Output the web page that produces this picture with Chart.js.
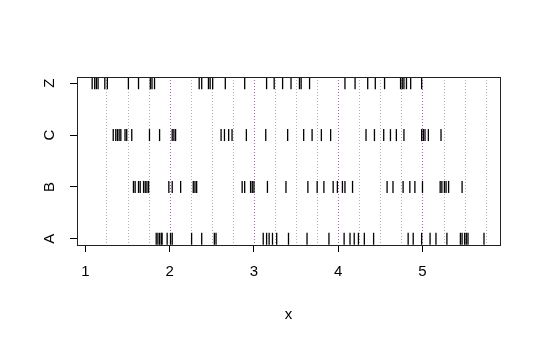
<!DOCTYPE html>
<html lang="en">
<head>
  <meta charset="UTF-8" />
  <title>Strip chart</title>
  <script src="https://cdn.jsdelivr.net/npm/chart.js"></script>
  <style>
    body {
      margin: 0;
      background: #fff;
    }
  </style>
</head>
<body>
  <canvas id="stripChart" width="540" height="341"></canvas>

  <script>
    // groups, bottom to top
    const categories = ['A', 'B', 'C', 'Z'];

    const valuesA = [1.84, 1.86, 1.88, 1.90, 1.91, 1.97, 2.01, 2.03, 2.26, 2.38, 2.53, 2.55,
      3.11, 3.15, 3.18, 3.22, 3.27, 3.41, 3.63, 3.89, 4.07, 4.14, 4.19, 4.24, 4.31, 4.42,
      4.83, 4.89, 4.99, 5.09, 5.16, 5.29, 5.45, 5.47, 5.50, 5.52, 5.54, 5.73];
    const valuesB = [1.57, 1.59, 1.63, 1.65, 1.69, 1.71, 1.73, 1.75, 1.99, 2.03, 2.13, 2.28,
      2.30, 2.32, 2.86, 2.89, 2.96, 2.98, 3.00, 3.16, 3.38, 3.64, 3.75, 3.83, 3.94, 3.99,
      4.05, 4.08, 4.17, 4.58, 4.65, 4.77, 4.85, 4.91, 5.00, 5.21, 5.23, 5.26, 5.28, 5.31, 5.47];
    const valuesC = [1.33, 1.36, 1.38, 1.40, 1.42, 1.47, 1.49, 1.55, 1.76, 1.88, 2.03, 2.05,
      2.07, 2.61, 2.65, 2.70, 2.74, 2.91, 3.14, 3.40, 3.59, 3.69, 3.80, 3.91, 4.33, 4.43,
      4.54, 4.62, 4.69, 4.78, 4.99, 5.01, 5.03, 5.07, 5.22];
    const valuesZ = [1.08, 1.11, 1.13, 1.15, 1.23, 1.26, 1.51, 1.63, 1.77, 1.79, 1.82, 2.35,
      2.38, 2.46, 2.48, 2.51, 2.66, 2.89, 3.15, 3.24, 3.34, 3.44, 3.54, 3.56, 3.66, 4.08,
      4.20, 4.35, 4.44, 4.55, 4.74, 4.76, 4.78, 4.81, 4.86, 4.99];

    const xTicks = [1, 2, 3, 4, 5];
    const guideLines = [1.25, 1.5, 1.75, 2, 2.25, 2.5, 2.75, 3, 3.25, 3.5, 3.75,
      4, 4.25, 4.5, 4.75, 5, 5.25, 5.5, 5.75];
    const majorGuides = [2, 3, 4, 5];

    const seriesValues = [valuesA, valuesB, valuesC, valuesZ];
    const font = { family: "'Liberation Sans', Arial, sans-serif", size: 15 };

    // dotted reference lines behind the strips
    const guidePlugin = {
      id: 'guides',
      beforeDatasetsDraw(chart) {
        const { ctx, chartArea, scales } = chart;
        ctx.save();
        ctx.lineWidth = 1;
        ctx.setLineDash([1, 2]);
        guideLines.forEach(v => {
          const px = Math.round(scales.x.getPixelForValue(v)) + 0.5;
          ctx.strokeStyle = majorGuides.includes(v) ? '#b060c0' : '#b0b0b0';
          ctx.beginPath();
          ctx.moveTo(px, chartArea.top);
          ctx.lineTo(px, chartArea.bottom);
          ctx.stroke();
        });
        ctx.restore();
      }
    };

    // box around the plot region
    const boxPlugin = {
      id: 'box',
      afterDraw(chart) {
        const { ctx, chartArea } = chart;
        ctx.save();
        ctx.strokeStyle = '#222';
        ctx.lineWidth = 1;
        ctx.strokeRect(chartArea.left + 0.5, chartArea.top + 0.5,
          chartArea.right - chartArea.left, chartArea.bottom - chartArea.top);
        ctx.restore();
      }
    };

    new Chart(document.getElementById('stripChart'), {
      type: 'scatter',
      data: {
        datasets: seriesValues.map((vals, i) => ({
          label: categories[i],
          data: vals.map(v => ({ x: v, y: i + 1 })),
          pointStyle: 'line',
          rotation: 90,
          radius: 6,
          borderWidth: 1.3,
          borderColor: '#000',
          backgroundColor: '#000'
        }))
      },
      options: {
        responsive: false,
        animation: false,
        events: [],
        layout: { padding: { top: 77, right: 40, left: 0, bottom: 0 } },
        plugins: {
          legend: { display: false },
          tooltip: { enabled: false }
        },
        scales: {
          x: {
            type: 'linear',
            min: 0.9,
            max: 5.92,
            afterBuildTicks: s => { s.ticks = xTicks.map(v => ({ value: v })); },
            afterFit: s => { s.height = 96; },
            ticks: { color: '#000', font, padding: 11, callback: v => v },
            grid: { drawOnChartArea: false, tickLength: 7, color: '#000' },
            border: { display: false },
            title: { display: true, text: 'x', color: '#000', font, padding: { top: 0, bottom: 17 } }
          },
          y: {
            type: 'linear',
            min: 0.88,
            max: 4.12,
            afterBuildTicks: s => { s.ticks = categories.map((_, i) => ({ value: i + 1 })); },
            afterFit: s => { s.width = 77; },
            ticks: {
              color: '#000', font, padding: 15, minRotation: 90, maxRotation: 90,
              crossAlign: 'center',
              callback: (v, i) => categories[i]
            },
            grid: { drawOnChartArea: false, tickLength: 7, color: '#000' },
            border: { display: false }
          }
        }
      },
      plugins: [guidePlugin, boxPlugin]
    });
  </script>
</body>
</html>
